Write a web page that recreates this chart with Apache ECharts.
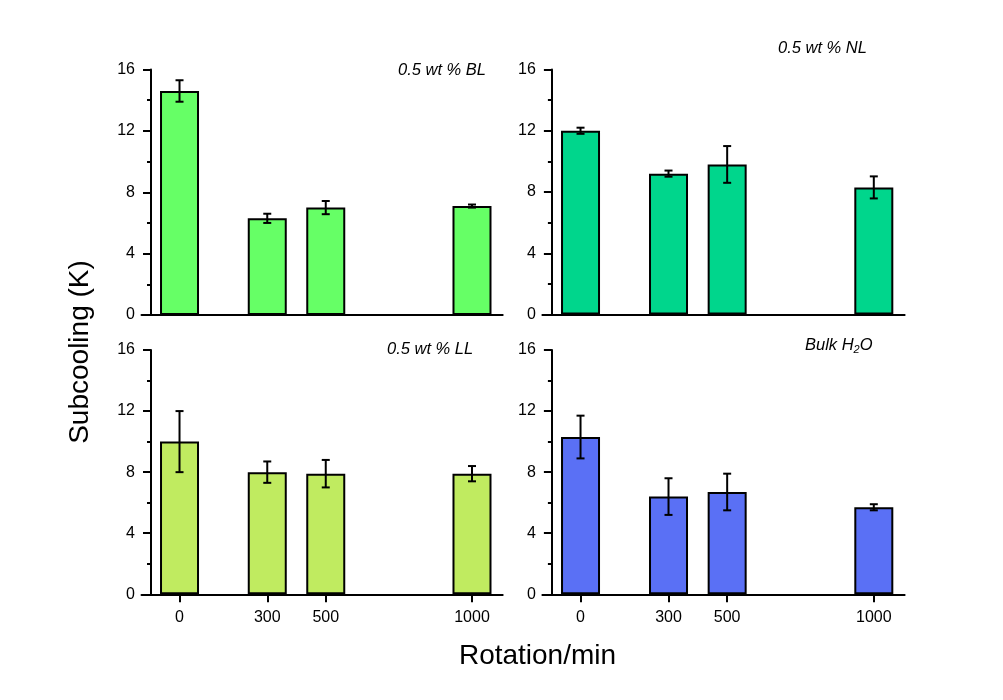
<!DOCTYPE html>
<html>
<head>
<meta charset="utf-8">
<script src="https://cdn.jsdelivr.net/npm/echarts@6/dist/echarts.min.js"></script>
<style>
html,body{margin:0;padding:0;background:#fff;}
#chart{width:1003px;height:700px;}
</style>
</head>
<body>
<div id="chart"></div>
<script>
// ---- data ----
const rotation = [0, 300, 500, 1000];
const blMean = [14.6, 6.3, 7.0, 7.1];
const blErr = [0.7, 0.3, 0.43, 0.1];
const nlMean = [12.0, 9.2, 9.8, 8.3];
const nlErr = [0.2, 0.2, 1.2, 0.72];
const llMean = [10.0, 8.0, 7.9, 7.9];
const llErr = [2.0, 0.7, 0.9, 0.5];
const bulkMean = [10.3, 6.4, 6.7, 5.7];
const bulkErr = [1.4, 1.2, 1.2, 0.2];
const yTickLabels = [0, 4, 8, 12, 16];
const panelNames = ['0.5 wt % BL', '0.5 wt % NL', '0.5 wt % LL', 'Bulk H2O'];

const FONT = '"Liberation Sans", Arial, sans-serif';
const panels = [
  {mean: blMean, err: blErr, color: '#66ff66', grid: {left: 141.5, top: 69.5, width: 361.2, height: 245.5}, showX: false},
  {mean: nlMean, err: nlErr, color: '#00d68c', grid: {left: 542.4, top: 69.5, width: 362.2, height: 245}, showX: false},
  {mean: llMean, err: llErr, color: '#c0eb60', grid: {left: 141.5, top: 350, width: 361.2, height: 244.3}, showX: true},
  {mean: bulkMean, err: bulkErr, color: '#5a70f5', grid: {left: 542.4, top: 350, width: 362.2, height: 244.3}, showX: true}
];

const grids = [], xAxes = [], yAxes = [], series = [];
panels.forEach((p, i) => {
  grids.push(Object.assign({containLabel: false, outerBoundsMode: 'none'}, p.grid));
  xAxes.push({
    type: 'value', gridIndex: i, min: -130, max: 1105,
    splitLine: {show: false},
    axisLine: {show: true, onZero: false, lineStyle: {color: '#000', width: 2}},
    axisTick: {show: p.showX, customValues: rotation, length: 8, inside: false, lineStyle: {color: '#000', width: 2}},
    axisLabel: {show: p.showX, customValues: rotation, margin: 15, color: '#000', fontFamily: FONT, fontSize: 16,
      formatter: v => String(v)}
  });
  yAxes.push({
    type: 'value', gridIndex: i, min: 0, max: 16, interval: 4, offset: -9.5,
    splitLine: {show: false},
    axisLine: {show: true, onZero: false, lineStyle: {color: '#000', width: 2}},
    axisTick: {show: true, length: 8, lineStyle: {color: '#000', width: 2}},
    minorTick: {show: true, splitNumber: 2, length: 4, lineStyle: {color: '#000', width: 2}},
    axisLabel: {
      color: '#000', fontFamily: FONT, fontSize: 16, margin: 16,
      formatter: v => yTickLabels.includes(v) ? String(v) : ''
    }
  });
  series.push({
    type: 'bar', xAxisIndex: i, yAxisIndex: i, barWidth: 39,
    data: rotation.map((x, k) => [x, p.mean[k]]),
    itemStyle: {color: p.color, borderColor: '#000', borderWidth: 2},
    z: 2
  });
  series.push({
    type: 'custom', xAxisIndex: i, yAxisIndex: i, z: 5,
    data: rotation.map((x, k) => [x, p.mean[k] - p.err[k], p.mean[k] + p.err[k]]),
    renderItem: (params, api) => {
      const lo = api.coord([api.value(0), api.value(1)]);
      const hi = api.coord([api.value(0), api.value(2)]);
      const hw = 4;
      const st = {stroke: '#000', lineWidth: 2, fill: null};
      return {
        type: 'group',
        children: [
          {type: 'line', shape: {x1: lo[0], y1: lo[1], x2: hi[0], y2: hi[1]}, style: st},
          {type: 'line', shape: {x1: lo[0] - hw, y1: lo[1], x2: lo[0] + hw, y2: lo[1]}, style: st},
          {type: 'line', shape: {x1: hi[0] - hw, y1: hi[1], x2: hi[0] + hw, y2: hi[1]}, style: st}
        ]
      };
    }
  });
});

const labelStyle = {fill: '#000', font: 'italic 16.5px ' + FONT};
const option = {
  backgroundColor: '#fff',
  animation: false,
  grid: grids,
  xAxis: xAxes,
  yAxis: yAxes,
  series: series,
  graphic: [
    {type: 'text', left: 398, top: 62, style: Object.assign({text: panelNames[0]}, labelStyle)},
    {type: 'text', left: 778, top: 40, style: Object.assign({text: panelNames[1]}, labelStyle)},
    {type: 'text', left: 387, top: 341, style: Object.assign({text: panelNames[2]}, labelStyle)},
    {type: 'text', left: 805, top: 337, style: {
      text: '{a|Bulk H}{s|2}{a|O}',
      rich: {
        a: {fontFamily: FONT, fontStyle: 'italic', fontSize: 16.5, color: '#000'},
        s: {fontFamily: FONT, fontStyle: 'italic', fontSize: 11, color: '#000', padding: [9, 0, 0, 0]}
      }
    }},
    {type: 'text', x: 537.5, y: 656, style: {text: 'Rotation/min', fill: '#000', font: '28px ' + FONT, align: 'center', verticalAlign: 'middle'}},
    {type: 'text', x: 80, y: 352, rotation: Math.PI / 2, style: {text: 'Subcooling (K)', fill: '#000', font: '28px ' + FONT, align: 'center', verticalAlign: 'middle'}}
  ]
};

const chart = echarts.init(document.getElementById('chart'), null, {renderer: 'canvas'});
chart.setOption(option);
</script>
</body>
</html>
